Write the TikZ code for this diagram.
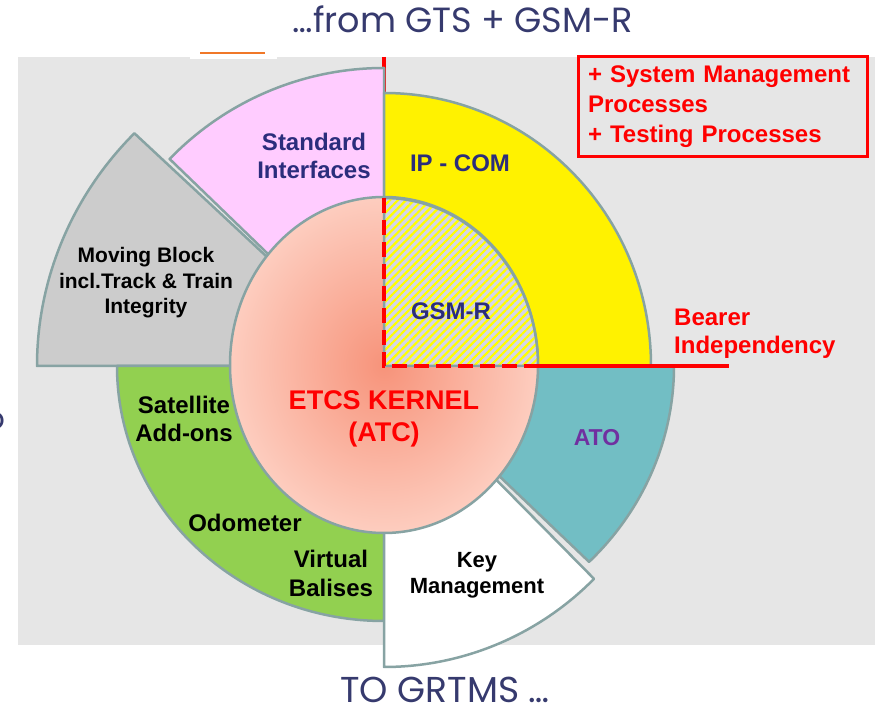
\documentclass[tikz,border=0pt]{standalone}
\usepackage{fontspec}
\setmainfont{Liberation Sans}
\newfontfamily\titlefont{Poppins}
\usetikzlibrary{patterns.meta}

\definecolor{bggray}{HTML}{E6E6E6}
\definecolor{rim}{HTML}{87A3A3}
\definecolor{stdpink}{HTML}{FFCCFF}
\definecolor{mbgray}{HTML}{CCCCCC}
\definecolor{satgreen}{HTML}{92D050}
\definecolor{atoteal}{HTML}{72BEC4}
\definecolor{kernelin}{HTML}{F7937A}
\definecolor{kernelout}{HTML}{FDCDBF}
\definecolor{gsmbg}{HTML}{D4D5EA}
\definecolor{navy}{HTML}{2B2D7C}
\definecolor{titlenavy}{HTML}{363A6E}
\definecolor{atopurple}{HTML}{7030A0}
\definecolor{slideorange}{HTML}{F07828}

\begin{document}
\begin{tikzpicture}[
    x=1pt, y=1pt,
    sector/.style={draw=rim, line width=2.5pt, line join=round},
    redline/.style={draw=red, line width=4pt},
    lbl/.style={font=\fontsize{24}{28}\selectfont\bfseries, align=center, inner sep=0pt},
    redlbl/.style={lbl, text=red},
    titletxt/.style={font=\titlefont\fontsize{35}{40}\selectfont, text=titlenavy, inner sep=0pt},
]
    \useasboundingbox (0,0) rectangle (875,711);
    \fill[white] (0,0) rectangle (875,711);
    \fill[bggray] (18,66) rectangle (875,654);
    \fill[white] (190,652) rectangle (277,654);
    \draw[slideorange, line width=1.5pt] (200,658) -- (265,658);

    \coordinate (c) at (384,345);
    \draw[redline] (384,654) -- (384,600);

    \filldraw[sector, fill=mbgray] (c) -- ++(136:347pt and 335pt)
        arc[start angle=136, end angle=180, x radius=347pt, y radius=335pt] -- cycle;
    \filldraw[sector, fill=stdpink] (c) -- ++(90:298pt)
        arc[start angle=90, end angle=136, radius=298pt] -- cycle;
    \filldraw[sector, fill=yellow] (c) -- ++(0:267pt and 273pt)
        arc[start angle=0, end angle=90, x radius=267pt, y radius=273pt] -- cycle;
    \filldraw[sector, fill=satgreen] (c) -- ++(180:267pt and 255pt)
        arc[start angle=180, end angle=270, x radius=267pt, y radius=255pt] -- cycle;
    \filldraw[sector, fill=atoteal] (c) -- ++(315:290pt and 277pt)
        arc[start angle=315, end angle=360, x radius=290pt, y radius=277pt] -- cycle;
    \filldraw[sector, fill=white] (c) -- ++(270:297pt and 301pt)
        arc[start angle=270, end angle=315, x radius=297pt, y radius=301pt] -- cycle;

    \shadedraw[sector, inner color=kernelin, outer color=kernelout] (384,346) ellipse[x radius=154pt, y radius=168pt];
    \path[sector, preaction={fill=gsmbg}, pattern={Lines[angle=45, distance=5.7pt, line width=2.2pt]}, pattern color=yellow]
        (c) -- ++(154pt,0) arc[start angle=0, end angle=90, x radius=154pt, y radius=168pt] -- cycle;

    \draw[redline, dash pattern=on 15pt off 7pt] (384,513) -- (c) -- (538,345);
    \draw[redline] (538,345) -- (729,345);

    \node[titletxt, anchor=base] (from) at (463,678) {…from GTS + GSM-R};
    \node[titletxt, anchor=base, font=\titlefont\fontsize{36}{40}\selectfont] (to) at (445,8) {TO GRTMS …};
    \node[titletxt, anchor=base east, font=\titlefont\fontsize{31}{36}\selectfont] (cut) at (6,281) {o};

    \node[lbl, text=navy] (std) at (314,555) {Standard\\Interfaces};
    \node[lbl, text=navy] (ipcom) at (460,548) {IP - COM};
    \node[lbl, text=navy] (gsmr) at (451,400) {GSM-R};
    \node[lbl, font=\fontsize{21}{25.5}\selectfont\bfseries] (mb) at (146,428) {Moving Block\\incl.Track \& Train\\Integrity};
    \node[lbl] (sat) at (184,292) {Satellite\\Add-ons};
    \node[lbl] (odo) at (245,188) {Odometer};
    \node[lbl, font=\fontsize{24}{29}\selectfont\bfseries] (vb) at (331,138) {Virtual\\Balises};
    \node[redlbl, font=\fontsize{27}{32}\selectfont\bfseries] (etcs) at (384,292) {ETCS KERNEL\\(ATC)};
    \node[lbl, text=atopurple, font=\fontsize{23}{28}\selectfont\bfseries] (ato) at (597,273) {ATO};
    \node[lbl, font=\fontsize{22}{26}\selectfont\bfseries] (key) at (477,136) {Key\\Management};
    \node[redlbl, anchor=west, align=left] (bearer) at (674,377) {Bearer\\Independency};
    \node[redlbl, draw=red, line width=3pt, align=left, minimum width=289pt, minimum height=100pt,
        text width=269pt, font=\fontsize{24}{30}\selectfont\bfseries] (mgmt) at (722.5,604)
        {+ System Management\\Processes\\+ Testing Processes};
\end{tikzpicture}
\end{document}
